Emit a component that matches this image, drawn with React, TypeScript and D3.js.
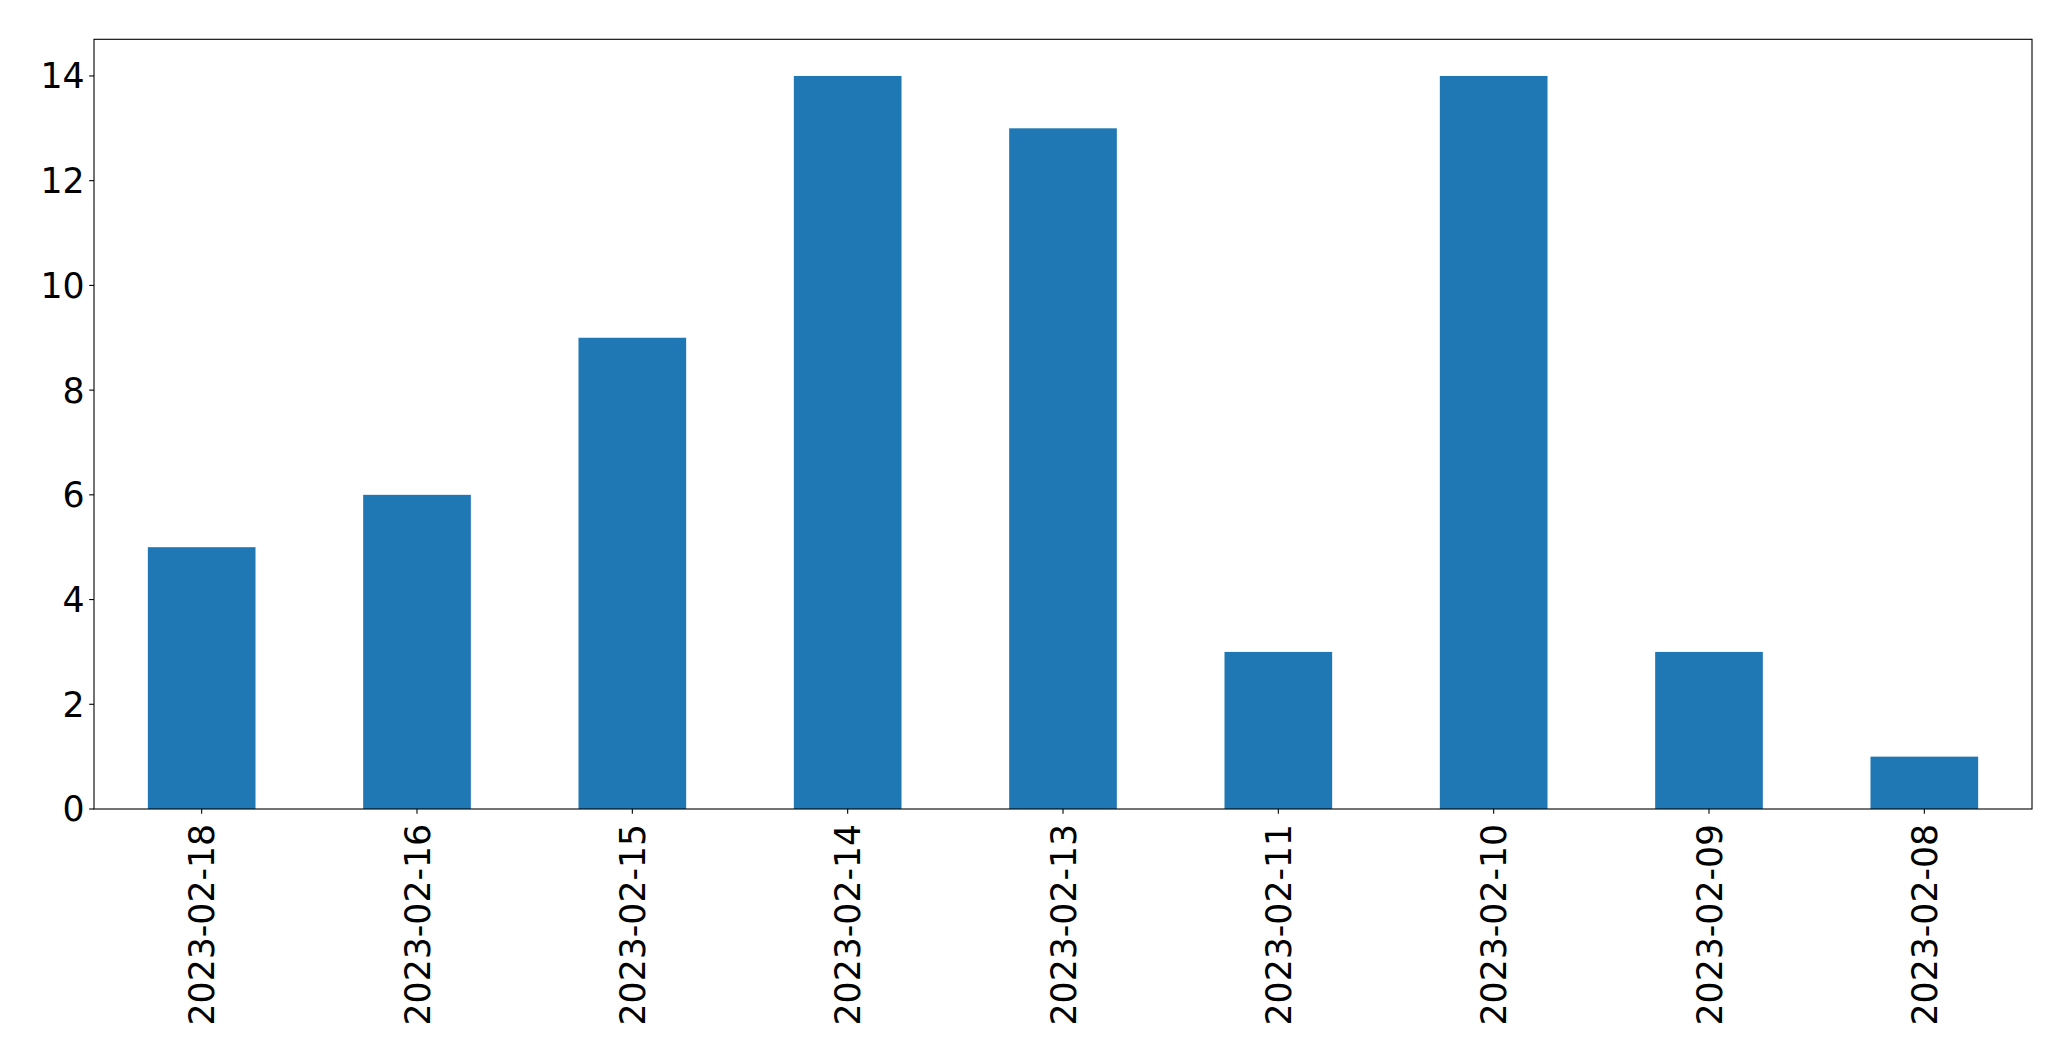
import React from "react";
import * as d3 from "d3";

const categories = ["2023-02-18", "2023-02-16", "2023-02-15", "2023-02-14", "2023-02-13", "2023-02-11", "2023-02-10", "2023-02-09", "2023-02-08"];
const values = [5, 6, 9, 14, 13, 3, 14, 3, 1];
const yTicks = [0, 2, 4, 6, 8, 10, 12, 14];

export default function App() {
  const W = 2071, H = 1061;
  const left = 94, right = 2032, top = 39.3, bottom = 809;
  const x = d3.scaleLinear().domain([-0.5, categories.length - 0.5]).range([left, right]);
  const y = d3.scaleLinear().domain([0, 14.7]).range([bottom, top]);
  const bw = x(0.25) - x(-0.25);
  const fs = 34.7;
  const tick = 4.86;
  return (
    <svg width={W} height={H} style={{ position: "absolute", left: 0, top: 0, background: "#fff" }} fontFamily="'DejaVu Sans', sans-serif">
      <rect x={0} y={0} width={W} height={H} fill="#fff" />
      {values.map((v, i) => (
        <rect key={i} x={x(i) - bw / 2} y={y(v)} width={bw} height={y(0) - y(v)} fill="#1f77b4" />
      ))}
      <rect x={left} y={top} width={right - left} height={bottom - top} fill="none" stroke="#000" strokeWidth={1.1} />
      {yTicks.map((t) => (
        <g key={t}>
          <line x1={left - tick} x2={left} y1={y(t)} y2={y(t)} stroke="#000" strokeWidth={1.1} />
          <text x={left - tick - 4.6} y={y(t)} dy="0.36em" textAnchor="end" fontSize={fs} fill="#000">{t}</text>
        </g>
      ))}
      {categories.map((c, i) => (
        <g key={c}>
          <line x1={x(i)} x2={x(i)} y1={bottom} y2={bottom + tick} stroke="#000" strokeWidth={1.1} />
          <text transform={`translate(${x(i)},${bottom + tick + 10}) rotate(-90)`} dy="0.36em" textAnchor="end" fontSize={fs} fill="#000">{c}</text>
        </g>
      ))}
    </svg>
  );
}
